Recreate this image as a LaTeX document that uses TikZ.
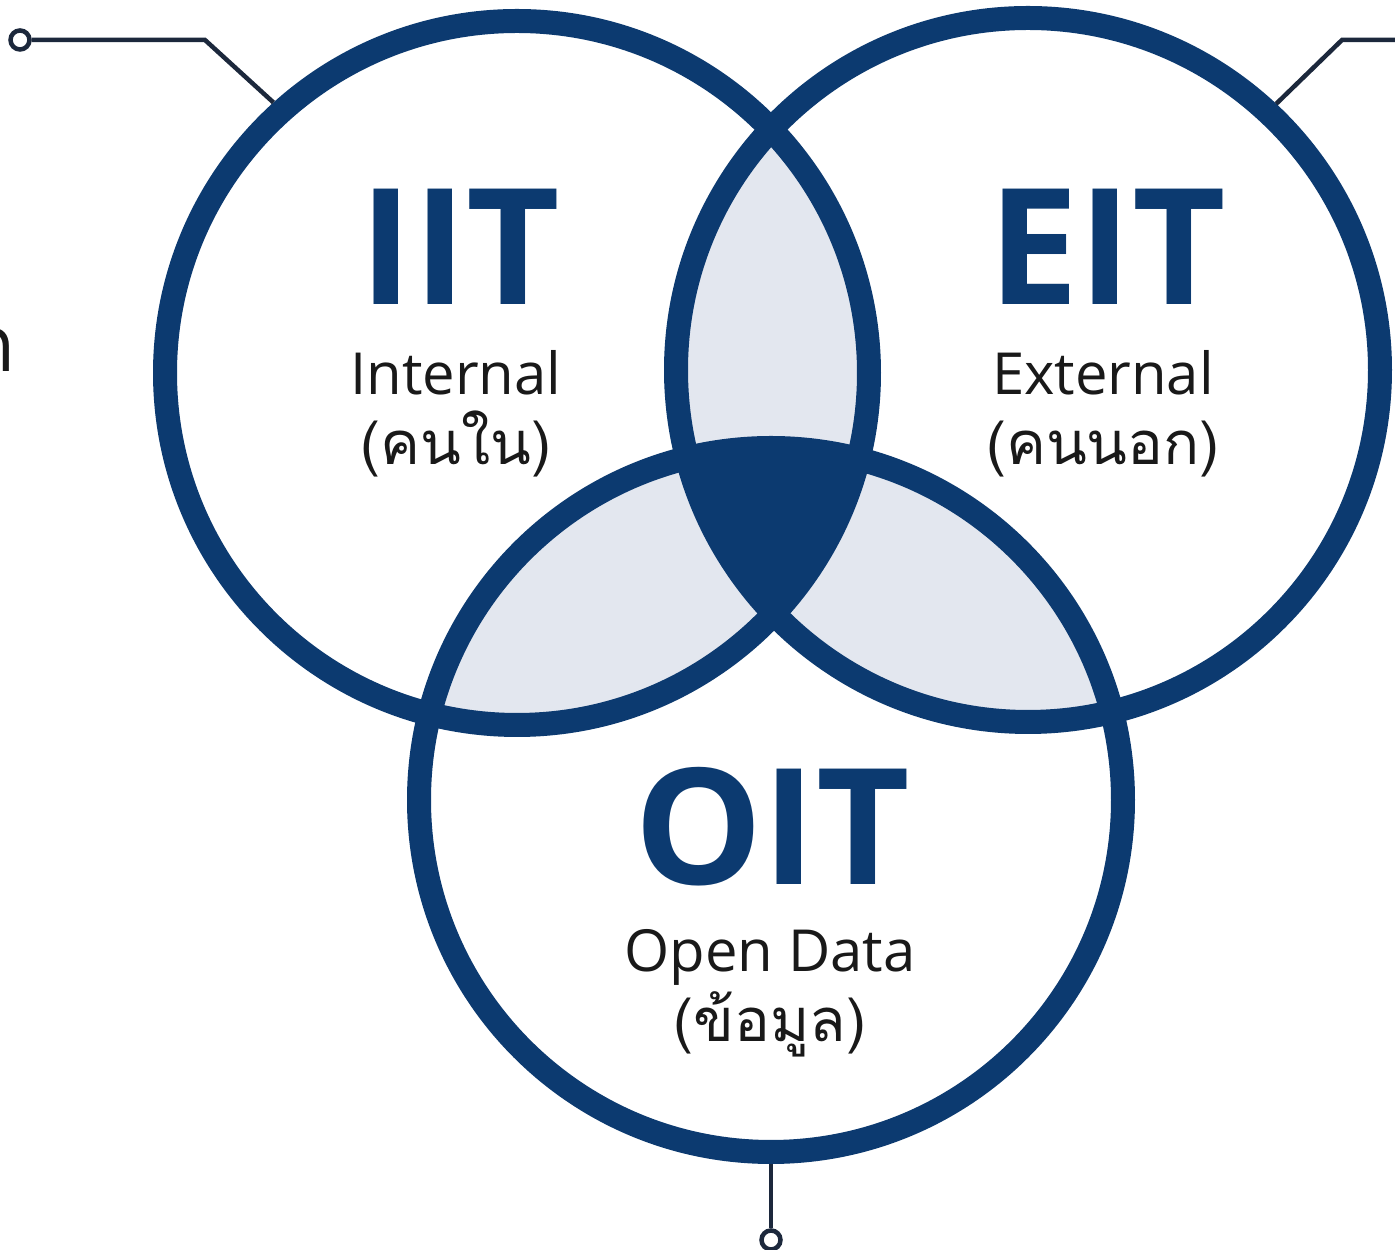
\documentclass[tikz,border=0pt]{standalone}
\usepackage{fontspec}
\setmainfont{Open Sans}
\newfontfamily\thaifont[Script=Thai]{Loma}
\definecolor{navy}{RGB}{12,58,112}
\definecolor{lens}{RGB}{227,231,239}
\definecolor{wire}{RGB}{28,40,60}
\definecolor{ink}{RGB}{25,25,25}
\tikzset{
  ring/.style={circle,draw=navy,line width=2.4mm,minimum size=70.4mm,inner sep=0pt},
  wireline/.style={draw=wire,line width=0.45mm},
  endpin/.style={circle,draw=wire,fill=white,line width=0.45mm,minimum size=1.9mm,inner sep=0pt},
  bigtitle/.style={anchor=base,text=navy,font=\fontsize{46}{50}\selectfont\bfseries},
  subtitle/.style={anchor=base,text=ink,font=\fontsize{16.5}{20}\selectfont},
  thaititle/.style={anchor=base,text=ink,font=\fontsize{17}{20}\selectfont\thaifont},
}
\begin{document}
\begin{tikzpicture}[x=0.1mm,y=-0.1mm]
\useasboundingbox (0,0) rectangle (1395,1250);
\fill[white] (0,0) rectangle (1395,1250);

\coordinate (cL) at (517,373);
\coordinate (cR) at (1028,370);
\coordinate (cB) at (771,800);

% pairwise overlaps
\begin{scope}
  \clip (cL) circle[radius=35.2mm];
  \fill[lens] (cR) circle[radius=35.2mm];
  \fill[lens] (cB) circle[radius=35.2mm];
\end{scope}
\begin{scope}
  \clip (cR) circle[radius=35.2mm];
  \fill[lens] (cB) circle[radius=35.2mm];
\end{scope}
% triple overlap
\begin{scope}
  \clip (cL) circle[radius=35.2mm];
  \clip (cR) circle[radius=35.2mm];
  \fill[navy] (cB) circle[radius=35.2mm];
\end{scope}

% rings
\node[ring] (L) at (cL) {};
\node[ring] (R) at (cR) {};
\node[ring] (B) at (cB) {};

% connector wires
\node[endpin] (p1) at (20,40) {};
\coordinate (k1) at (205,40);
\draw[wireline] (L.132) -- (k1) -- (p1);

\coordinate (k2) at (1342,40);
\coordinate (e2) at (1400,40);
\draw[wireline] (R.47) -- (k2) -- (e2);

\node[endpin] (p3) at (771,1240) {};
\draw[wireline] (B.270) -- (p3);

% clipped text at the left edge (cut off in the reference too)
\node[anchor=base east,text=ink,font=\fontsize{22}{24}\selectfont\thaifont,inner sep=0pt] (cut) at (16,372) {ก};

% labels
\node[bigtitle] (iit) at (460,305) {IIT};
\node[subtitle] (iitE) at (456,395) {Internal};
\node[thaititle] (iitT) at (456,465) {(คนใน)};

\node[bigtitle] (eit) at (1107,305) {EIT};
\node[subtitle] (eitE) at (1103,395) {External};
\node[thaititle] (eitT) at (1103,465) {(คนนอก)};

\node[bigtitle] (oit) at (772,885) {OIT};
\node[subtitle] (oitE) at (770,972) {Open Data};
\node[thaititle] (oitT) at (770,1042) {(ข้อมูล)};
\end{tikzpicture}
\end{document}
